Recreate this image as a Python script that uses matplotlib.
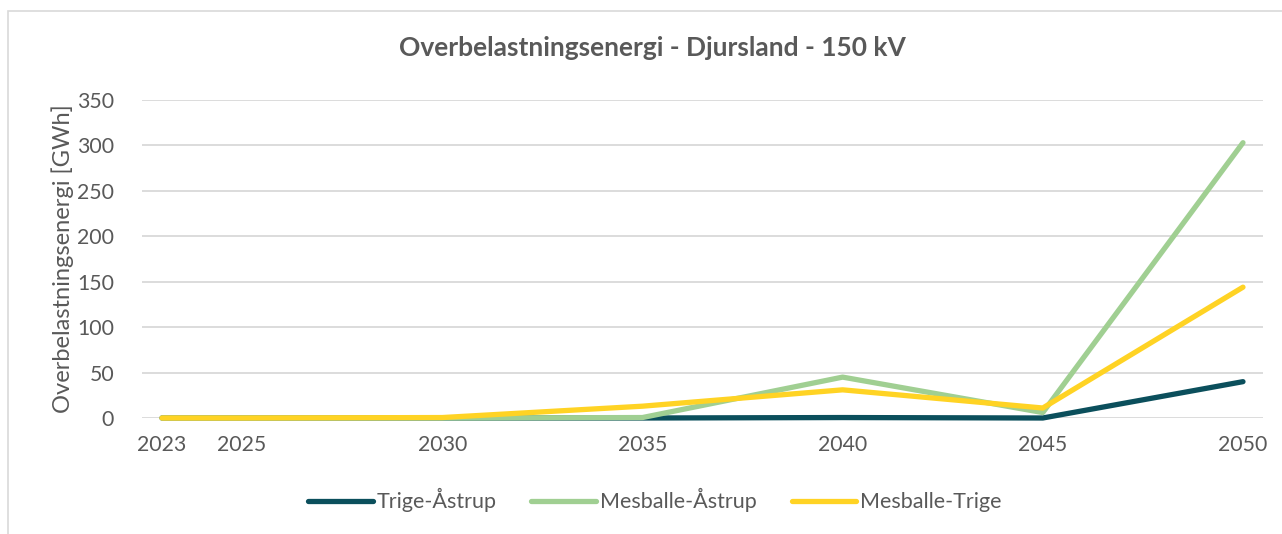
import matplotlib.pyplot as plt
from matplotlib.patches import Rectangle

plt.rcParams['font.family'] = ['Lato', 'DejaVu Sans']

# data
aar = [2023, 2025, 2030, 2035, 2040, 2045, 2050]
trige_aastrup = [0, 0, 0, 0, 0.5, 0, 40]
mesballe_aastrup = [0, 0, 0, 0.5, 45, 6, 303]
mesballe_trige = [0, 0, 0.5, 13, 31, 11, 144]
y_ticks = [0, 50, 100, 150, 200, 250, 300, 350]

tekst = '#595959'

fig = plt.figure(figsize=(12.82, 5.34), dpi=100)
ax = fig.add_axes([142/1282, 1-418/534, (1263-142)/1282, 318/534])

# kantlinje om diagrammet
fig.patches.append(Rectangle((8/1282, -0.1), 1.2, 1-11/534+0.1, transform=fig.transFigure,
                             fill=False, edgecolor='#D9D9D9', linewidth=1.2))

ax.plot(aar, trige_aastrup, color='#0B4F5C', lw=3.8, solid_capstyle='round', label='Trige-Åstrup', clip_on=False, zorder=3)
ax.plot(aar, mesballe_aastrup, color='#A0CF92', lw=3.8, solid_capstyle='round', label='Mesballe-Åstrup', clip_on=False, zorder=3)
ax.plot(aar, mesballe_trige, color='#FFD324', lw=3.8, solid_capstyle='round', label='Mesballe-Trige', clip_on=False, zorder=4)

ax.set_xlim(2022.5, 2050.5)
ax.set_ylim(0, 350)
ax.set_yticks(y_ticks)
ax.set_xticks(aar)
ax.grid(axis='y', color='#D9D9D9', lw=1.3)
ax.set_axisbelow(True)
for s in ax.spines.values():
    s.set_visible(False)
ax.tick_params(length=0, labelsize=15.3, labelcolor=tekst)
ax.tick_params(axis='y', pad=20)
ax.tick_params(axis='x', pad=12)

ax.set_ylabel('Overbelastningsenergi [GWh]', fontsize=17, color=tekst, labelpad=2)
fig.text(652/1282, 1-48/534, 'Overbelastningsenergi - Djursland - 150 kV', ha='center', va='center',
         fontsize=19, fontweight='bold', color=tekst)

fig.legend(loc='center', bbox_to_anchor=(655/1282, 1-500/534), ncol=3, frameon=False,
           fontsize=15.5, labelcolor=tekst, handlelength=3.0, handletextpad=0.2, columnspacing=1.6)

plt.savefig('out.png', dpi=100)
